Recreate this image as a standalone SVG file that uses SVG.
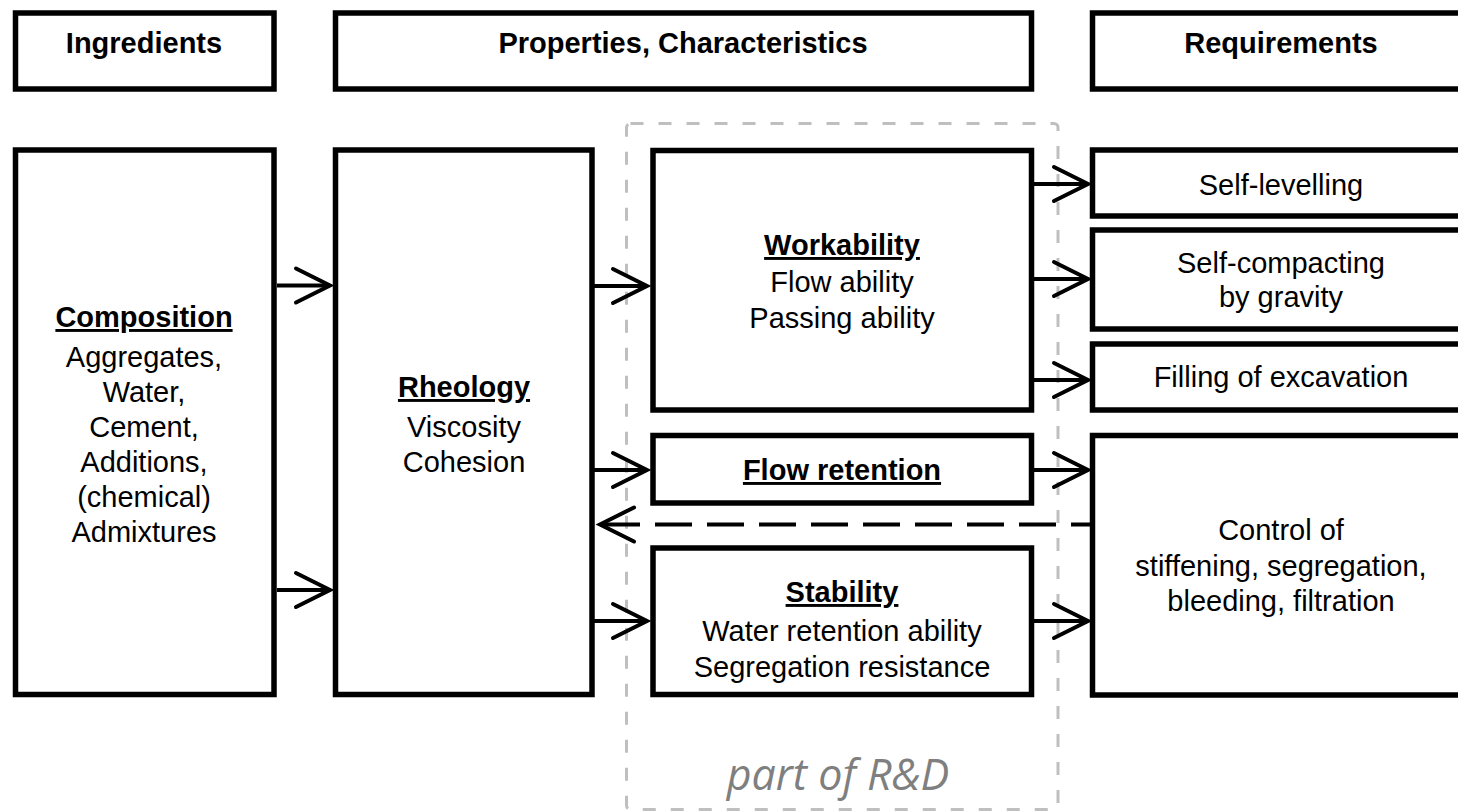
<svg xmlns="http://www.w3.org/2000/svg" width="1458" height="812" viewBox="0 0 1458 812">
<defs>
<style>
.box{fill:#fff;stroke:#000;stroke-width:5.5}
.t{font-family:"Liberation Sans",Arial,sans-serif;font-size:29px;fill:#000;text-anchor:middle}
.b{font-weight:bold}
.u{font-weight:bold;text-decoration:underline}
.ln{fill:none;stroke:#000;stroke-width:4}
.hd{fill:none;stroke:#000;stroke-width:4;stroke-linecap:round;stroke-linejoin:miter}
.rd{fill:none;stroke:#bfbfbf;stroke-width:3;stroke-dasharray:13 15}
.rdt{font-family:"Open Sans","DejaVu Sans",sans-serif;font-style:italic;font-size:43px;fill:#7f7f7f;text-anchor:middle}
</style>
</defs>
<rect width="1458" height="812" fill="#fff"/>

<g id="header-ingredients">
<rect class="box" x="15.5" y="13" width="258.5" height="76"/>
<text class="t b" x="144" y="53">Ingredients</text>
</g>
<g id="header-properties">
<rect class="box" x="335.5" y="13" width="696" height="76"/>
<text class="t b" x="683" y="53">Properties, Characteristics</text>
</g>
<g id="header-requirements">
<rect class="box" x="1092.5" y="13" width="400" height="76"/>
<text class="t b" x="1281" y="53">Requirements</text>
</g>

<g id="rd-region">
<rect class="rd" x="626.5" y="123.5" width="431.5" height="686" rx="4"/>
<text class="rdt" x="838" y="790">part of R&amp;D</text>
</g>

<g id="composition">
<rect class="box" x="15.5" y="150" width="258.5" height="544.5"/>
<text class="t u" x="144" y="327">Composition</text>
<text class="t" x="144" y="367">Aggregates,</text>
<text class="t" x="144" y="402">Water,</text>
<text class="t" x="144" y="437">Cement,</text>
<text class="t" x="144" y="472">Additions,</text>
<text class="t" x="144" y="507">(chemical)</text>
<text class="t" x="144" y="542">Admixtures</text>
</g>

<g id="rheology">
<rect class="box" x="335.5" y="150" width="256.5" height="544.5"/>
<text class="t u" x="464" y="397">Rheology</text>
<text class="t" x="464" y="437">Viscosity</text>
<text class="t" x="464" y="472">Cohesion</text>
</g>

<g id="workability">
<rect class="box" x="653" y="150.5" width="378.5" height="259.5"/>
<text class="t u" x="842" y="255">Workability</text>
<text class="t" x="842" y="292">Flow ability</text>
<text class="t" x="842" y="328">Passing ability</text>
</g>

<g id="flow-retention">
<rect class="box" x="653" y="435.5" width="378.5" height="67.5"/>
<text class="t u" x="842" y="480">Flow retention</text>
</g>

<g id="stability">
<rect class="box" x="653" y="548" width="378.5" height="146.5"/>
<text class="t u" x="842" y="602">Stability</text>
<text class="t" x="842" y="641">Water retention ability</text>
<text class="t" x="842" y="677">Segregation resistance</text>
</g>

<g id="self-levelling">
<rect class="box" x="1092.5" y="150" width="400" height="66"/>
<text class="t" x="1281" y="195">Self-levelling</text>
</g>
<g id="self-compacting">
<rect class="box" x="1092.5" y="230" width="400" height="99"/>
<text class="t" x="1281" y="273">Self-compacting</text>
<text class="t" x="1281" y="307">by gravity</text>
</g>
<g id="filling">
<rect class="box" x="1092.5" y="344" width="400" height="66"/>
<text class="t" x="1281" y="387">Filling of excavation</text>
</g>
<g id="control">
<rect class="box" x="1092.5" y="435.5" width="400" height="259.5"/>
<text class="t" x="1281" y="540">Control of</text>
<text class="t" x="1281" y="576">stiffening, segregation,</text>
<text class="t" x="1281" y="611">bleeding, filtration</text>
</g>

<g id="connectors">
<!-- Composition -> Rheology -->
<path class="ln" d="M277 285.5H330"/>
<path class="hd" d="M296 268.5L330 285.5L296 302.5"/>
<path class="ln" d="M277 590H330"/>
<path class="hd" d="M296 573L330 590L296 607"/>
<!-- Rheology -> Workability / Flow retention / Stability -->
<path class="ln" d="M594 286H647"/>
<path class="hd" d="M613 269L647 286L613 303"/>
<path class="ln" d="M594 470H647"/>
<path class="hd" d="M613 453L647 470L613 487"/>
<path class="ln" d="M594 621H647"/>
<path class="hd" d="M613 604L647 621L613 638"/>
<!-- Workability -> requirements -->
<path class="ln" d="M1034 184H1088"/>
<path class="hd" d="M1054 167L1088 184L1054 201"/>
<path class="ln" d="M1034 279H1088"/>
<path class="hd" d="M1054 262L1088 279L1054 296"/>
<path class="ln" d="M1034 380H1088"/>
<path class="hd" d="M1054 363L1088 380L1054 397"/>
<!-- Flow retention / Stability -> Control -->
<path class="ln" d="M1034 470H1088"/>
<path class="hd" d="M1054 453L1088 470L1054 487"/>
<path class="ln" d="M1034 621H1088"/>
<path class="hd" d="M1054 604L1088 621L1054 638"/>
<!-- Control -> Rheology (dashed feedback) -->
<path class="ln" d="M603 524.5H1090" stroke-dasharray="37 15"/>
<path class="hd" d="M634 507.5L600 524.5L634 541.5"/>
</g>
</svg>
